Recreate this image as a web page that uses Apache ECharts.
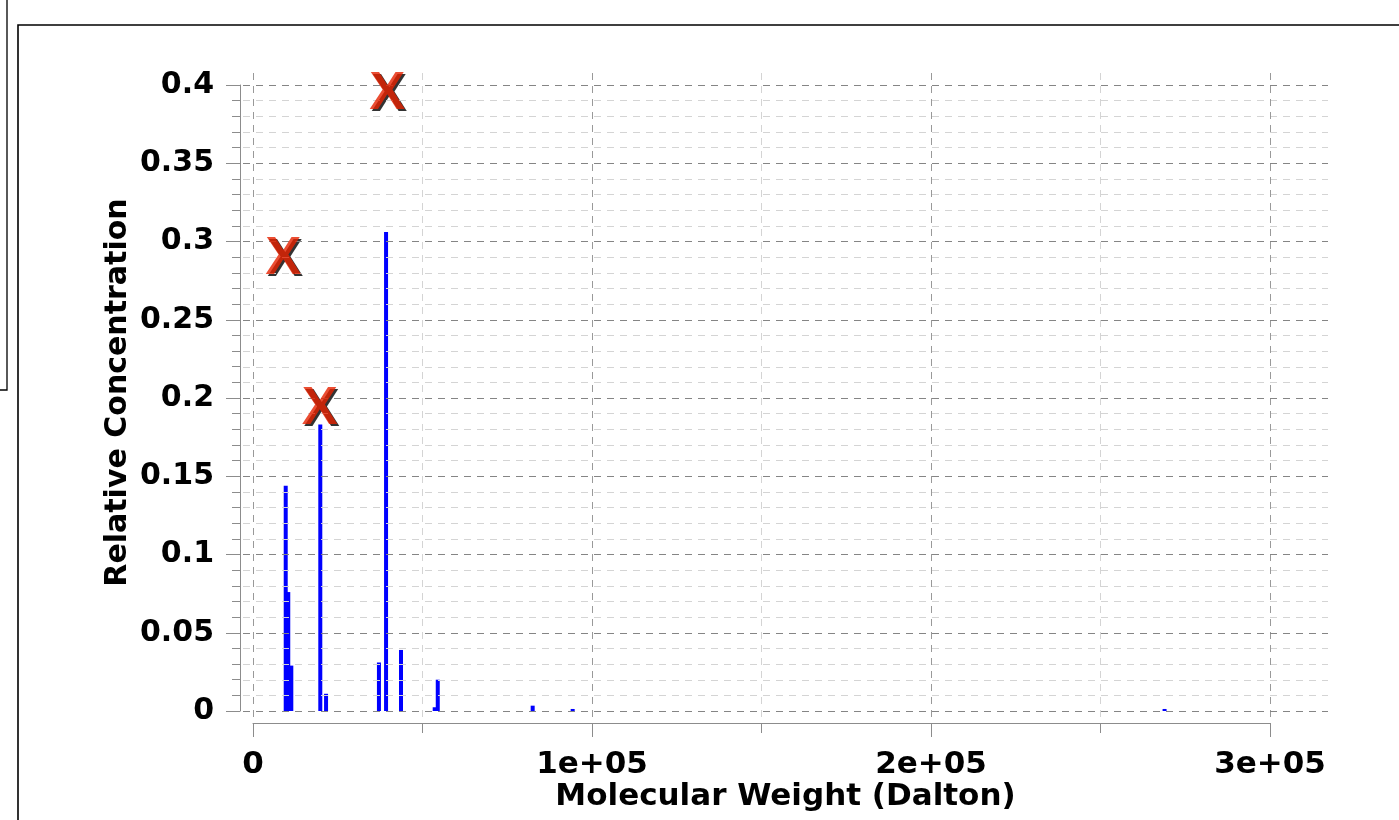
<!DOCTYPE html>
<html><head><meta charset="utf-8">
<script src="https://cdn.jsdelivr.net/npm/echarts@6/dist/echarts.min.js"></script>
<style>html,body{margin:0;padding:0;background:#fff}#c{width:1399px;height:820px}</style>
</head><body><div id="c"></div>
<script>
// ---- data ----
const barMW   = [9650, 10400, 11300, 19850, 21550, 37150, 39250, 43650, 53600, 54500, 82500, 94300, 268900];
const barConc = [0.144, 0.076, 0.029, 0.183, 0.011, 0.031, 0.306, 0.039, 0.0024, 0.020, 0.0034, 0.0013, 0.0013];
const markerMW   = [8900, 19700, 39600];
const markerConc = [0.289, 0.193, 0.394];
const xTickValues = [0, 100000, 200000, 300000];
const xTickLabels = ['0', '1e+05', '2e+05', '3e+05'];
const xMinorValues = [50000, 150000, 250000];
const yTickValues = [0, 0.05, 0.1, 0.15, 0.2, 0.25, 0.3, 0.35, 0.4];
const yTickLabels = ['0', '0.05', '0.1', '0.15', '0.2', '0.25', '0.3', '0.35', '0.4'];
const yMinorValues = [];
for (let i = 1; i < 40; i++) if (i % 5 !== 0) yMinorValues.push(i / 100);

const labelFor = (vals, labels) => v => {
  const i = vals.findIndex(t => Math.abs(t - v) < 1e-9 * Math.max(1, Math.abs(t)));
  return i >= 0 ? labels[i] : '';
};
const FONT = 'DejaVu Sans';
const MAJ = '#858585', MIN = '#d4d4d4', AX = '#8c8c8c';
const dash = [7, 6];

const gridLineData = [];
xMinorValues.forEach(v => gridLineData.push({xAxis: v, lineStyle: {color: MIN, type: dash, width: 1}}));
yMinorValues.forEach(v => gridLineData.push({yAxis: v, lineStyle: {color: MIN, type: dash, width: 1}}));
xTickValues.forEach(v => gridLineData.push({xAxis: v, lineStyle: {color: '#999', type: dash, width: 1}}));
yTickValues.forEach(v => gridLineData.push({yAxis: v, lineStyle: {color: MAJ, type: dash, width: 1}}));

const chart = echarts.init(document.getElementById('c'), null, {renderer: 'canvas'});
chart.setOption({
  animation: false,
  backgroundColor: '#fff',
  graphic: [
    {type: 'rect', shape: {x: 18, y: 25, width: 1420, height: 840}, style: {fill: 'none', stroke: '#000', lineWidth: 1.6}, z: 100},
    {type: 'polyline', shape: {points: [[7, -5], [7, 390], [-5, 390]]}, style: {fill: 'none', stroke: '#000', lineWidth: 1.3}, z: 100}
  ],
  grid: [
    {left: 243, top: 68, width: 1085, height: 649},
    {left: 253, top: 85, width: 1017, height: 626}
  ],
  xAxis: [
    {gridIndex: 0, type: 'value', min: -2950, max: 317100,
     axisLine: {show: false, onZero: false}, axisTick: {show: false}, axisLabel: {show: false}, splitLine: {show: false},
     name: 'Molecular Weight (Dalton)', nameLocation: 'middle', nameGap: 64,
     nameTextStyle: {fontFamily: FONT, fontWeight: 'bold', fontSize: 31, color: '#000'}},
    {gridIndex: 1, type: 'value', min: 0, max: 300000, interval: 100000, offset: 12,
     axisLine: {show: true, onZero: false, lineStyle: {color: AX, width: 1}},
     axisTick: {show: true, length: 14, lineStyle: {color: AX, width: 1}},
     minorTick: {show: true, splitNumber: 2, length: 10, lineStyle: {color: AX, width: 1}},
     axisLabel: {margin: 26, showMinLabel: true, showMaxLabel: true, hideOverlap: false,
       formatter: labelFor(xTickValues, xTickLabels),
       fontFamily: FONT, fontWeight: 'bold', fontSize: 31, color: '#000'},
     splitLine: {show: false}, minorSplitLine: {show: false}}
  ],
  yAxis: [
    {gridIndex: 0, type: 'value', min: -0.0038, max: 0.4109,
     axisLine: {show: false, onZero: false}, axisTick: {show: false}, axisLabel: {show: false}, splitLine: {show: false},
     name: 'Relative Concentration', nameLocation: 'middle', nameGap: 110,
     nameTextStyle: {fontFamily: FONT, fontWeight: 'bold', fontSize: 30, color: '#000'}},
    {gridIndex: 1, type: 'value', min: 0, max: 0.4, interval: 0.05, offset: 13,
     axisLine: {show: true, onZero: false, lineStyle: {color: AX, width: 1}},
     axisTick: {show: true, length: 14, lineStyle: {color: AX, width: 1}},
     minorTick: {show: true, splitNumber: 5, length: 8, lineStyle: {color: AX, width: 1}},
     axisLabel: {margin: 26, showMinLabel: true, showMaxLabel: true, hideOverlap: false,
       formatter: labelFor(yTickValues, yTickLabels),
       fontFamily: FONT, fontWeight: 'bold', fontSize: 30, color: '#000'},
     splitLine: {show: false}, minorSplitLine: {show: false}}
  ],
  series: [
    {type: 'line', xAxisIndex: 0, yAxisIndex: 0, data: [], silent: true, z: 1,
     markLine: {silent: true, symbol: ['none', 'none'], label: {show: false}, emphasis: {disabled: true},
       animation: false, data: gridLineData}},
    {type: 'bar', xAxisIndex: 1, yAxisIndex: 1, barWidth: 4, z: 3, silent: true,
     itemStyle: {color: '#0000ff'},
     data: barMW.map((x, i) => [x, barConc[i]])},
    {type: 'scatter', xAxisIndex: 1, yAxisIndex: 1, z: 4, silent: true, clip: false,
     symbolSize: 1, itemStyle: {color: 'rgba(0,0,0,0)'},
     label: {show: true, position: 'inside', offset: [2, 2], formatter: 'X',
       fontFamily: 'Liberation Sans', fontWeight: 'bold', fontSize: 54, color: '#000',
       textBorderWidth: 0, textBorderColor: 'transparent'},
     data: markerMW.map((x, i) => [x, markerConc[i]])},
    {type: 'scatter', xAxisIndex: 1, yAxisIndex: 1, z: 5, silent: true, clip: false,
     symbolSize: 1, itemStyle: {color: 'rgba(0,0,0,0)'},
     label: {show: true, position: 'inside', formatter: 'X',
       fontFamily: 'Liberation Sans', fontWeight: 'bold', fontSize: 54, color: '#e62200',
       textBorderWidth: 0, textBorderColor: 'transparent'},
     data: markerMW.map((x, i) => [x, markerConc[i]])}
  ]
});
</script></body></html>
